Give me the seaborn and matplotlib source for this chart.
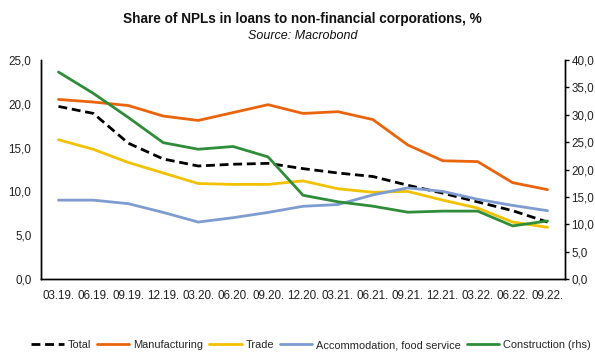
import matplotlib
matplotlib.use("Agg")
import matplotlib.pyplot as plt
from matplotlib.ticker import FuncFormatter, FixedLocator
import seaborn as sns
import pandas as pd

sns.set_theme(style="white")
plt.rcParams["font.family"] = ["Liberation Sans", "DejaVu Sans"]

quarters = ["03.19.", "06.19.", "09.19.", "12.19.", "03.20.", "06.20.", "09.20.",
            "12.20.", "03.21.", "06.21.", "09.21.", "12.21.", "03.22.", "06.22.", "09.22."]
total = [19.7, 18.9, 15.5, 13.7, 12.9, 13.1, 13.2, 12.6, 12.1, 11.7, 10.7, 9.8, 8.8, 7.8, 6.5]
manufacturing = [20.5, 20.2, 19.8, 18.6, 18.1, 19.0, 19.9, 18.9, 19.1, 18.2, 15.3, 13.5, 13.4, 11.0, 10.2]
trade = [15.9, 14.8, 13.3, 12.1, 10.9, 10.8, 10.8, 11.2, 10.3, 9.9, 10.0, 9.0, 8.1, 6.5, 5.9]
accommodation = [9.0, 9.0, 8.6, 7.6, 6.5, 7.0, 7.6, 8.3, 8.5, 9.6, 10.4, 10.0, 9.1, 8.4, 7.8]
construction = [37.8, 33.9, 29.5, 24.9, 23.7, 24.2, 22.3, 15.3, 14.1, 13.3, 12.2, 12.4, 12.4, 9.7, 10.6]

colors = {
    "Total": "#000000",
    "Manufacturing": "#EA640C",
    "Trade": "#F2C100",
    "Accommodation, food service": "#7F9CD0",
    "Construction (rhs)": "#2F8C38",
}

pos = list(range(len(quarters)))
left = pd.DataFrame({
    "q": pos * 4,
    "value": total + manufacturing + trade + accommodation,
    "series": (["Total"] * len(pos) + ["Manufacturing"] * len(pos)
               + ["Trade"] * len(pos) + ["Accommodation, food service"] * len(pos)),
})
right = pd.DataFrame({"q": pos, "value": construction,
                      "series": ["Construction (rhs)"] * len(pos)})

fig = plt.figure(figsize=(5.95, 3.52), dpi=100)
ax = fig.add_axes([41 / 595, 1 - 279 / 352, (565 - 41) / 595, (279 - 60) / 352])
ax2 = ax.twinx()

lw = 2.0
dash = (0, (3.2, 1.7))
sns.lineplot(data=left, x="q", y="value", hue="series", palette=colors,
             ax=ax, linewidth=lw, legend=False)
ax.lines[0].set_linestyle(dash)
sns.lineplot(data=right, x="q", y="value", hue="series", palette=colors,
             ax=ax2, linewidth=lw, legend=False)

comma = FuncFormatter(lambda v, p: f"{v:.1f}".replace(".", ","))
ax.set_xlim(-0.5, len(quarters) - 0.5)
ax.set_ylim(0, 25)
ax2.set_ylim(0, 40)
ax.yaxis.set_major_locator(FixedLocator([0, 5, 10, 15, 20, 25]))
ax2.yaxis.set_major_locator(FixedLocator([0, 5, 10, 15, 20, 25, 30, 35, 40]))
ax.yaxis.set_major_formatter(comma)
ax2.yaxis.set_major_formatter(comma)
ax.set_xticks(pos)
ax.set_xticklabels(quarters)
ax.set_xlabel("")
ax.set_ylabel("")
ax2.set_ylabel("")

for a in (ax, ax2):
    a.grid(False)
    a.spines["top"].set_visible(False)
    for s in ("left", "right", "bottom"):
        a.spines[s].set_color("#000000")
        a.spines[s].set_linewidth(1.0)
    a.tick_params(labelsize=8.4, colors="#222222")
ax.tick_params(axis="x", length=0, pad=8)
ax.tick_params(axis="y", length=0, pad=7)
ax2.tick_params(axis="y", length=3, width=1.0, color="#000000", pad=1.5, direction="out")

fig.text(302 / 595, 1 - 19 / 352, "Share of NPLs in loans to non-financial corporations, %",
         ha="center", va="center", fontsize=9.8, fontweight="bold", color="#111111")
fig.text(303 / 595, 1 - 36 / 352, "Source: Macrobond", ha="center", va="center",
         fontsize=9, style="italic", color="#111111")

handles = [plt.Line2D([], [], color=colors[k], linewidth=lw,
                      linestyle=dash if k == "Total" else "-")
           for k in colors]
fig.legend(handles, list(colors.keys()), loc="center", bbox_to_anchor=(311 / 595, 1 - 345 / 352),
           ncol=5, frameon=False, fontsize=7.9, handlelength=3.0, handletextpad=0.35,
           columnspacing=0.5, borderaxespad=0, borderpad=0)

fig.savefig("out.png", dpi=100)
